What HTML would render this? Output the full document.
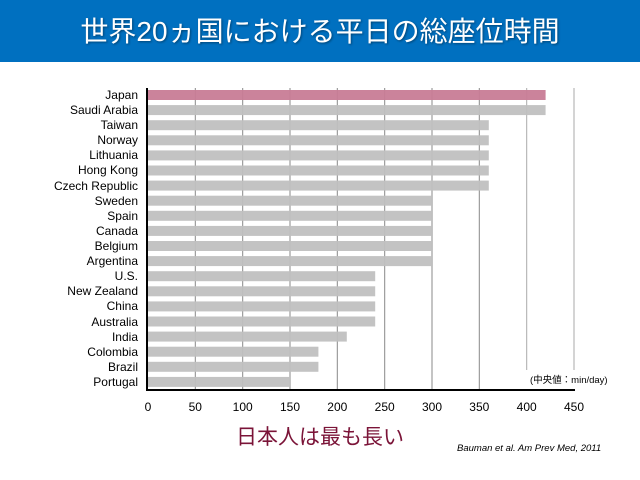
<!DOCTYPE html>
<html><head><meta charset="utf-8"><style>
body{margin:0;width:640px;height:480px;background:#fff;overflow:hidden;position:relative;font-family:"Liberation Sans",Arial,sans-serif}
.hdr{position:absolute;left:0;top:0;width:640px;height:62px;background:#0070c0;color:#fff;font-family:"Liberation Sans","Noto Sans CJK JP",sans-serif;font-size:28px;text-align:center;line-height:64px;text-shadow:1px 1px 2px rgba(0,0,0,.4)}
</style></head><body>
<div class="hdr">世界20ヵ国における平日の総座位時間</div>
<svg width="640" height="480" style="position:absolute;left:0;top:0" font-family="Liberation Sans, Arial, sans-serif">
<g stroke="#888" stroke-width="1">
<line x1="195.3" y1="88" x2="195.3" y2="390"/>
<line x1="242.7" y1="88" x2="242.7" y2="390"/>
<line x1="290" y1="88" x2="290" y2="390"/>
<line x1="337.3" y1="88" x2="337.3" y2="390"/>
<line x1="384.7" y1="88" x2="384.7" y2="390"/>
<line x1="432" y1="88" x2="432" y2="390"/>
<line x1="479.3" y1="88" x2="479.3" y2="390"/>
<line x1="526.7" y1="88" x2="526.7" y2="370" stroke="#aaa"/>
<line x1="574" y1="88" x2="574" y2="370" stroke="#aaa"/>
</g>
<g fill="#c0c0c0" opacity="0.95">
<rect x="148" y="90" width="397.6" height="10" fill="#c97d96"/>
<rect x="148" y="105.1" width="397.6" height="10"/>
<rect x="148" y="120.2" width="340.8" height="10"/>
<rect x="148" y="135.3" width="340.8" height="10"/>
<rect x="148" y="150.4" width="340.8" height="10"/>
<rect x="148" y="165.5" width="340.8" height="10"/>
<rect x="148" y="180.6" width="340.8" height="10"/>
<rect x="148" y="195.7" width="284" height="10"/>
<rect x="148" y="210.8" width="284" height="10"/>
<rect x="148" y="225.9" width="284" height="10"/>
<rect x="148" y="241" width="284" height="10"/>
<rect x="148" y="256.1" width="284" height="10"/>
<rect x="148" y="271.2" width="227.2" height="10"/>
<rect x="148" y="286.3" width="227.2" height="10"/>
<rect x="148" y="301.4" width="227.2" height="10"/>
<rect x="148" y="316.5" width="227.2" height="10"/>
<rect x="148" y="331.6" width="198.8" height="10"/>
<rect x="148" y="346.7" width="170.4" height="10"/>
<rect x="148" y="361.8" width="170.4" height="10"/>
<rect x="148" y="376.9" width="142" height="10"/>
</g>
<g stroke="#000" stroke-width="2">
<line x1="147" y1="88" x2="147" y2="390"/>
<line x1="146" y1="390" x2="575" y2="390"/>
</g>
<g font-size="12" text-anchor="end" fill="#000">
<text x="138" y="99">Japan</text>
<text x="138" y="114">Saudi Arabia</text>
<text x="138" y="129">Taiwan</text>
<text x="138" y="144">Norway</text>
<text x="138" y="159">Lithuania</text>
<text x="138" y="174">Hong Kong</text>
<text x="138" y="190">Czech Republic</text>
<text x="138" y="205">Sweden</text>
<text x="138" y="220">Spain</text>
<text x="138" y="235">Canada</text>
<text x="138" y="250">Belgium</text>
<text x="138" y="265">Argentina</text>
<text x="138" y="280">U.S.</text>
<text x="138" y="295">New Zealand</text>
<text x="138" y="310">China</text>
<text x="138" y="326">Australia</text>
<text x="138" y="341">India</text>
<text x="138" y="356">Colombia</text>
<text x="138" y="371">Brazil</text>
<text x="138" y="386">Portugal</text>
</g>
<g font-size="12" text-anchor="middle" fill="#000">
<text x="148" y="411">0</text><text x="195.3" y="411">50</text><text x="242.7" y="411">100</text>
<text x="290" y="411">150</text><text x="337.3" y="411">200</text><text x="384.7" y="411">250</text>
<text x="432" y="411">300</text><text x="479.3" y="411">350</text><text x="526.7" y="411">400</text>
<text x="574" y="411">450</text>
</g>
<text x="530" y="383" font-size="9.5" font-family="Liberation Sans, Noto Sans CJK JP, sans-serif">(中央値：min/day)</text>
<text x="236" y="444" font-size="21" fill="#7b1438" font-family="Liberation Sans, Noto Sans CJK JP, sans-serif">日本人は最も長い</text>
<text x="457" y="451" font-size="9.5" font-style="italic">Bauman et al. Am Prev Med, 2011</text>
</svg>
</body></html>
